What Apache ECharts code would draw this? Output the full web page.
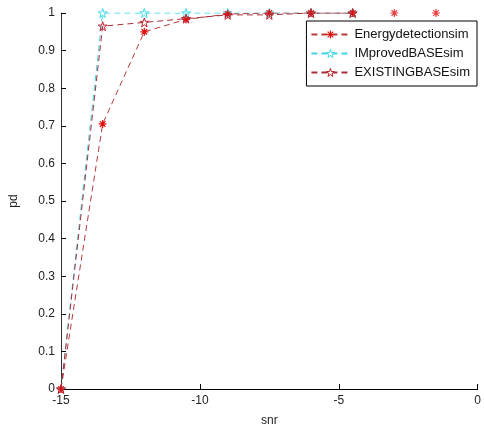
<!DOCTYPE html>
<html>
<head>
<meta charset="utf-8">
<script src="https://cdn.jsdelivr.net/npm/echarts@6/dist/echarts.min.js"></script>
<style>
html,body{margin:0;padding:0;background:#fff;}
#chart{width:484px;height:432px;}
</style>
</head>
<body>
<div id="chart"></div>
<script>
// snr points (dB)
const snr = [-15, -13.5, -12, -10.5, -9, -7.5, -6, -4.5];
const snrTail = [-3, -1.5];
const energyPd = [0, 0.705, 0.95, 0.983, 0.997, 1, 1, 1];
const energyTailPd = [1, 1];
const improvedPd = [0, 1, 1, 1, 1, 1, 1, 1];
const existingPd = [0, 0.965, 0.975, 0.985, 0.995, 0.995, 1, 1];

const asterisk = "path://M0,-1L0,1M-1,0L1,0M-0.7,-0.7L0.7,0.7M-0.7,0.7L0.7,-0.7";
const star = "path://M0,-1L0.2234,-0.3074L0.9511,-0.309L0.3614,0.1174L0.5878,0.809L0,0.38L-0.5878,0.809L-0.3614,0.1174L-0.9511,-0.309L-0.2234,-0.3074Z";

const pairs = (xs, ys) => xs.map((x, i) => [x, ys[i]]);

let myChart = echarts.init(document.getElementById("chart"));
const font = "Liberation Sans, Arial, sans-serif";

let option = {
  backgroundColor: "#fff",
  animation: false,
  grid: { left: 55, right: 4, top: 13, bottom: 39 },
  legend: {
    orient: "vertical",
    right: 7,
    top: 21,
    backgroundColor: "#fff",
    borderColor: "#000",
    borderWidth: 1,
    padding: [7, 7, 7, 4],
    itemGap: 6,
    itemWidth: 38,
    itemHeight: 10,
    textStyle: { fontFamily: font, fontSize: 13, color: "#111" },
    data: [
      { name: "Energydetectionsim", itemStyle: { color: "#e01010", borderColor: "#e01010", borderWidth: 1.2 } },
      { name: "IMprovedBASEsim", itemStyle: { color: "#ffffff", borderColor: "#3fdbe6", borderWidth: 1 } },
      { name: "EXISTINGBASEsim", itemStyle: { color: "#ffffff", borderColor: "#c0202a", borderWidth: 1 } }
    ]
  },
  xAxis: {
    type: "value",
    min: -15,
    max: 0,
    interval: 5,
    name: "snr",
    nameLocation: "middle",
    nameGap: 26,
    nameTextStyle: { fontFamily: font, fontSize: 12, color: "#222" },
    axisLine: { onZero: false, lineStyle: { color: "#000" } },
    axisTick: { inside: true, length: 5, lineStyle: { color: "#000" } },
    axisLabel: { fontFamily: font, fontSize: 12, color: "#222", margin: 6 },
    splitLine: { show: false }
  },
  yAxis: {
    type: "value",
    min: 0,
    max: 1,
    interval: 0.1,
    name: "pd",
    nameLocation: "middle",
    nameGap: 41,
    nameTextStyle: { fontFamily: font, fontSize: 12, color: "#222" },
    axisLine: { show: true, onZero: false, lineStyle: { color: "#333" } },
    axisTick: { show: true, inside: true, length: 5, lineStyle: { color: "#000" } },
    axisLabel: { fontFamily: font, fontSize: 12, color: "#222", margin: 6 },
    splitLine: { show: false }
  },
  series: [
    {
      name: "Energydetectionsim",
      type: "line",
      data: pairs(snr, energyPd),
      symbol: asterisk,
      symbolSize: 8,
      itemStyle: { color: "#e01010", borderColor: "#e01010", borderWidth: 1.2 },
      lineStyle: { color: "#b83a3a", width: 1, type: [6, 4] },
      z: 3
    },
    {
      name: "IMprovedBASEsim",
      type: "line",
      data: pairs(snr, improvedPd),
      symbol: star,
      symbolSize: 9,
      itemStyle: { color: "rgba(0,0,0,0)", borderColor: "#3fdbe6", borderWidth: 1 },
      lineStyle: { color: "#3fd6e2", width: 1, type: [6, 4] },
      z: 2
    },
    {
      name: "EXISTINGBASEsim",
      type: "line",
      data: pairs(snr, existingPd),
      symbol: star,
      symbolSize: 9,
      itemStyle: { color: "rgba(0,0,0,0)", borderColor: "#c0202a", borderWidth: 1 },
      lineStyle: { color: "#a8303a", width: 1, type: [6, 4] },
      z: 4
    },
    {
      name: "energyTail",
      type: "scatter",
      data: pairs(snrTail, energyTailPd),
      symbol: asterisk,
      symbolSize: 8,
      itemStyle: { color: "#e01010", borderColor: "#e01010", borderWidth: 1.2 }
    }
  ]
};

option && myChart.setOption(option);
</script>
</body>
</html>
